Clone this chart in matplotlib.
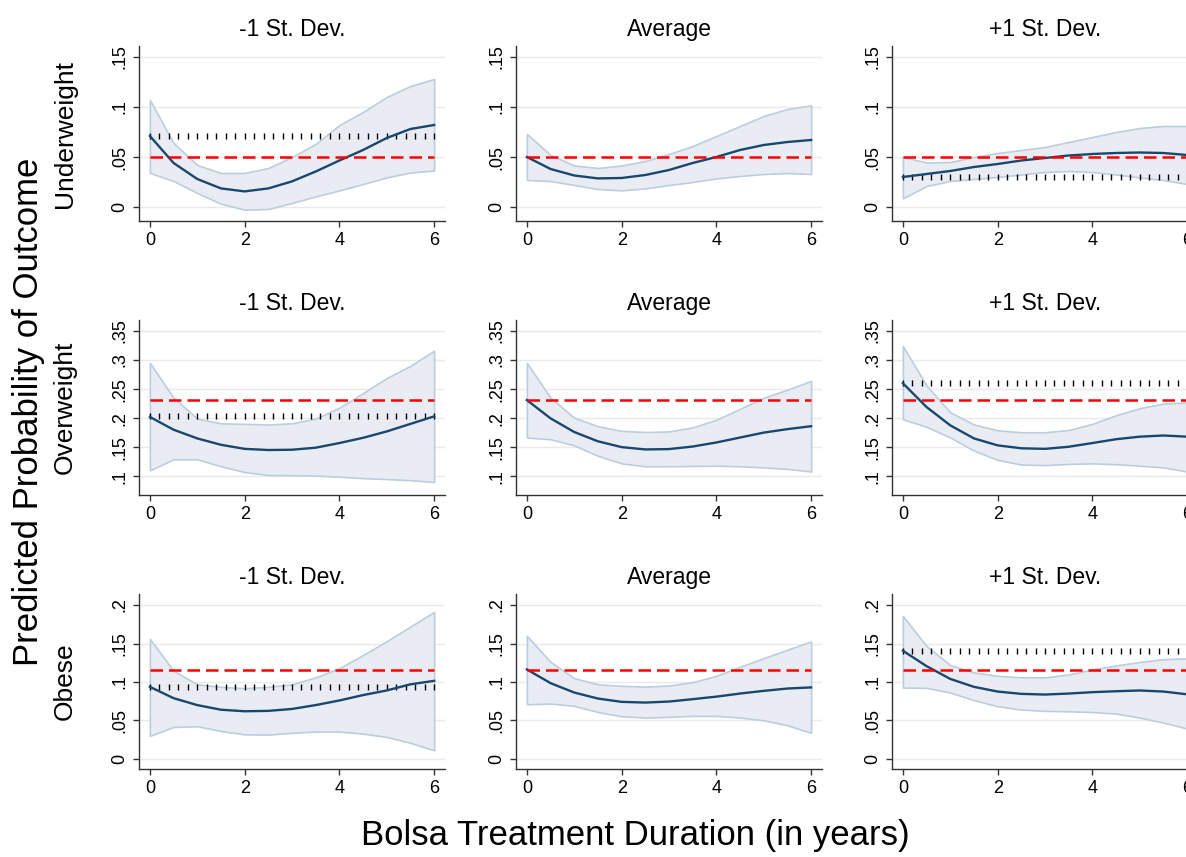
import numpy as np
import matplotlib
matplotlib.use("Agg")
import matplotlib.pyplot as plt
from matplotlib.ticker import FuncFormatter

plt.rcParams['font.family'] = ['Liberation Sans', 'DejaVu Sans']

# --- data ---
years = [0, 0.5, 1, 1.5, 2, 2.5, 3, 3.5, 4, 4.5, 5, 5.5, 6]
col_titles = ["-1 St. Dev.", "Average", "+1 St. Dev."]
row_labels = ["Underweight", "Overweight", "Obese"]

# Underweight
uw_lo_mean = [0.071, 0.044, 0.028, 0.0186, 0.0156, 0.0186, 0.0256, 0.0355, 0.0465, 0.057, 0.069, 0.078, 0.082]
uw_lo_hi   = [0.107, 0.064, 0.042, 0.034, 0.034, 0.039, 0.050, 0.063, 0.082, 0.095, 0.110, 0.121, 0.128]
uw_lo_lo   = [0.034, 0.026, 0.014, 0.0033, -0.0027, -0.002, 0.004, 0.0106, 0.0166, 0.023, 0.0296, 0.0345, 0.0365]
uw_av_mean = [0.050, 0.038, 0.0315, 0.0286, 0.029, 0.032, 0.037, 0.044, 0.050, 0.057, 0.062, 0.065, 0.067]
uw_av_hi   = [0.073, 0.052, 0.0415, 0.039, 0.0415, 0.046, 0.053, 0.061, 0.071, 0.081, 0.091, 0.098, 0.1016]
uw_av_lo   = [0.027, 0.026, 0.022, 0.018, 0.0166, 0.0186, 0.022, 0.025, 0.0286, 0.031, 0.033, 0.034, 0.033]
uw_hi_mean = [0.030, 0.033, 0.036, 0.040, 0.043, 0.0465, 0.049, 0.0515, 0.053, 0.054, 0.0545, 0.054, 0.052]
uw_hi_hi   = [0.050, 0.0445, 0.045, 0.050, 0.054, 0.057, 0.060, 0.065, 0.070, 0.075, 0.079, 0.081, 0.081]
uw_hi_lo   = [0.0086, 0.021, 0.026, 0.028, 0.030, 0.0325, 0.035, 0.036, 0.035, 0.0325, 0.0295, 0.027, 0.023]

# Overweight
ow_lo_mean = [0.202, 0.180, 0.165, 0.154, 0.147, 0.145, 0.1455, 0.149, 0.157, 0.166, 0.177, 0.190, 0.203]
ow_lo_hi   = [0.295, 0.235, 0.199, 0.191, 0.190, 0.189, 0.191, 0.199, 0.218, 0.243, 0.269, 0.290, 0.316]
ow_lo_lo   = [0.110, 0.129, 0.129, 0.117, 0.107, 0.102, 0.1017, 0.101, 0.099, 0.0966, 0.095, 0.093, 0.090]
ow_av_mean = [0.231, 0.1995, 0.176, 0.160, 0.150, 0.146, 0.1466, 0.151, 0.158, 0.1665, 0.175, 0.181, 0.186]
ow_av_hi   = [0.295, 0.235, 0.2006, 0.186, 0.178, 0.176, 0.177, 0.184, 0.197, 0.216, 0.235, 0.249, 0.264]
ow_av_lo   = [0.1665, 0.1636, 0.153, 0.135, 0.122, 0.117, 0.117, 0.1176, 0.118, 0.117, 0.115, 0.1125, 0.108]
ow_hi_mean = [0.260, 0.219, 0.1875, 0.165, 0.153, 0.148, 0.147, 0.1506, 0.157, 0.1636, 0.168, 0.170, 0.168]
ow_hi_hi   = [0.324, 0.256, 0.210, 0.189, 0.179, 0.1756, 0.1756, 0.1795, 0.190, 0.205, 0.217, 0.225, 0.227]
ow_hi_lo   = [0.198, 0.185, 0.1665, 0.144, 0.128, 0.120, 0.119, 0.121, 0.122, 0.1205, 0.118, 0.115, 0.108]

# Obese
ob_lo_mean = [0.0937, 0.079, 0.070, 0.064, 0.062, 0.0625, 0.065, 0.070, 0.076, 0.083, 0.089, 0.097, 0.1015]
ob_lo_hi   = [0.156, 0.1145, 0.097, 0.0937, 0.092, 0.0937, 0.097, 0.106, 0.118, 0.135, 0.153, 0.172, 0.191]
ob_lo_lo   = [0.030, 0.0416, 0.0425, 0.0364, 0.032, 0.0317, 0.034, 0.0356, 0.0356, 0.033, 0.0286, 0.021, 0.0113]
ob_av_mean = [0.1163, 0.0985, 0.0863, 0.0785, 0.0742, 0.0733, 0.0746, 0.0777, 0.081, 0.085, 0.0885, 0.0915, 0.093]
ob_av_hi   = [0.160, 0.126, 0.105, 0.097, 0.095, 0.094, 0.0954, 0.0998, 0.108, 0.1197, 0.131, 0.142, 0.1527]
ob_av_lo   = [0.0711, 0.072, 0.069, 0.061, 0.0555, 0.0538, 0.0547, 0.056, 0.056, 0.0538, 0.0503, 0.0438, 0.034]
ob_hi_mean = [0.1406, 0.1206, 0.104, 0.0937, 0.0876, 0.0846, 0.0837, 0.085, 0.0868, 0.088, 0.089, 0.0876, 0.084]
ob_hi_hi   = [0.1857, 0.1466, 0.122, 0.1124, 0.108, 0.106, 0.106, 0.1098, 0.1163, 0.1215, 0.126, 0.1297, 0.1306]
ob_hi_lo   = [0.0928, 0.0924, 0.0863, 0.0764, 0.0685, 0.0642, 0.0625, 0.062, 0.061, 0.059, 0.0538, 0.0473, 0.0395]

# reference lines: red = sample rate, dotted = value at year 0 (hidden under red for Average)
red_ref = [0.050, 0.231, 0.116]
dot_ref = [[0.071, None, 0.030],
           [0.203, None, 0.261],
           [0.093, None, 0.140]]

y_ticks = [[0, 0.05, 0.1, 0.15],
           [0.1, 0.15, 0.2, 0.25, 0.3, 0.35],
           [0, 0.05, 0.1, 0.15, 0.2]]
y_lims = [(-0.014, 0.161), (0.0675, 0.369), (-0.013, 0.2143)]

panels = [
    [(uw_lo_mean, uw_lo_lo, uw_lo_hi), (uw_av_mean, uw_av_lo, uw_av_hi), (uw_hi_mean, uw_hi_lo, uw_hi_hi)],
    [(ow_lo_mean, ow_lo_lo, ow_lo_hi), (ow_av_mean, ow_av_lo, ow_av_hi), (ow_hi_mean, ow_hi_lo, ow_hi_hi)],
    [(ob_lo_mean, ob_lo_lo, ob_lo_hi), (ob_av_mean, ob_av_lo, ob_av_hi), (ob_hi_mean, ob_hi_lo, ob_hi_hi)],
]

W, H = 1186, 857
fig = plt.figure(figsize=(W / 100, H / 100), dpi=100)

col_left = [139, 516, 892]
row_top = [46, 320, 594]
ax_w, ax_h = 306, 175

NAVY = "#1a476f"
FILL = "#e9edf3"
EDGE = "#bccddd"

def fmt(v, pos):
    s = f"{v:g}"
    return s[1:] if s.startswith("0.") else s

for r in range(3):
    for c in range(3):
        x0 = col_left[c] / W
        y0 = 1 - (row_top[r] + ax_h) / H
        ax = fig.add_axes([x0, y0, ax_w / W, ax_h / H])
        mean, lo, hi = panels[r][c]
        ax.fill_between(years, lo, hi, facecolor=FILL, edgecolor=EDGE, lw=1.2, zorder=2)
        if dot_ref[r][c] is not None:
            # dotted reference, drawn as small vertical ticks like Stata
            xs = np.linspace(0, 6, 31)
            ax.plot(xs, np.full_like(xs, dot_ref[r][c]), ls="none", marker="|",
                    ms=4.5, mew=1.0, color="black", zorder=2.5)
        ax.plot(years, mean, color=NAVY, lw=1.7, zorder=3)
        ax.plot([0, 6], [red_ref[r]] * 2, color="#ff0000", lw=1.8,
                ls=(0, (5, 2.4)), zorder=5)

        ax.set_xlim(-0.23, 6.23)
        ax.set_ylim(*y_lims[r])
        ax.set_xticks([0, 2, 4, 6])
        ax.set_yticks(y_ticks[r])
        ax.yaxis.set_major_formatter(FuncFormatter(fmt))
        ax.grid(axis="y", color="#eaeaea", lw=1.0, zorder=0)
        ax.set_axisbelow(True)
        for s in ["top", "right"]:
            ax.spines[s].set_visible(False)
        for s in ["left", "bottom"]:
            ax.spines[s].set_color("#333333")
            ax.spines[s].set_linewidth(1.0)
        ax.tick_params(axis="both", direction="out", length=4, width=1.0,
                       color="#333333", labelsize=13, pad=4)
        for lbl in ax.get_yticklabels():
            lbl.set_rotation(90)
            lbl.set_va("center")
        ax.set_title(col_titles[c], fontsize=16.5, pad=7)

# row labels
for r in range(3):
    yc = 1 - (row_top[r] + ax_h / 2) / H
    fig.text(65 / W, yc, row_labels[r], rotation=90, ha="center", va="center", fontsize=19)

fig.text(29 / W, 1 - 412 / H, "Predicted Probability of Outcome", rotation=90,
         ha="center", va="center", fontsize=25)
fig.text(635 / W, 1 - 836 / H, "Bolsa Treatment Duration (in years)",
         ha="center", va="center", fontsize=25)

fig.savefig("out.png", dpi=100)
